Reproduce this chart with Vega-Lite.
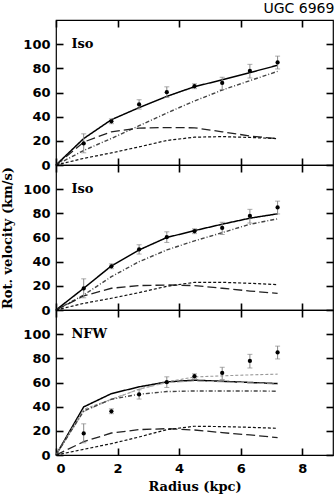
{
  "$schema": "https://vega.github.io/schema/vega-lite/v6.json",
  "background": "white",
  "padding": {"left": 1, "top": 1, "right": 1, "bottom": 1},
  "title": {"text": "UGC 6969", "anchor": "end", "fontSize": 14, "font": "DejaVu Sans", "fontWeight": "normal", "color": "#000000", "offset": 3},
  "spacing": 0,
  "bounds": "flush",
  "datasets": {
    "pts": [
      {"r": 0.9, "v": 17.8, "lo": 10.1, "hi": 25.8},
      {"r": 1.8, "v": 36.2, "lo": 34.2, "hi": 38.2},
      {"r": 2.7, "v": 50.1, "lo": 46.3, "hi": 54.0},
      {"r": 3.6, "v": 60.3, "lo": 55.9, "hi": 64.7},
      {"r": 4.5, "v": 65.2, "lo": 63.2, "hi": 67.2},
      {"r": 5.4, "v": 67.9, "lo": 62.5, "hi": 72.6},
      {"r": 6.3, "v": 77.8, "lo": 72.0, "hi": 83.3},
      {"r": 7.2, "v": 84.9, "lo": 79.5, "hi": 90.1}
    ],
    "curves": [
      {"p": 1, "c": "total", "r": 0, "v": 0}, {"p": 1, "c": "total", "r": 0.9, "v": 21.9}, {"p": 1, "c": "total", "r": 1.8, "v": 37.5}, {"p": 1, "c": "total", "r": 2.7, "v": 47.5}, {"p": 1, "c": "total", "r": 3.6, "v": 56.8}, {"p": 1, "c": "total", "r": 4.5, "v": 64.8}, {"p": 1, "c": "total", "r": 5.4, "v": 70.5}, {"p": 1, "c": "total", "r": 6.3, "v": 76.5}, {"p": 1, "c": "total", "r": 7.2, "v": 82.5},
      {"p": 1, "c": "halo", "r": 0, "v": 0}, {"p": 1, "c": "halo", "r": 0.9, "v": 12}, {"p": 1, "c": "halo", "r": 1.8, "v": 22}, {"p": 1, "c": "halo", "r": 2.7, "v": 32.5}, {"p": 1, "c": "halo", "r": 3.6, "v": 43}, {"p": 1, "c": "halo", "r": 4.5, "v": 53}, {"p": 1, "c": "halo", "r": 5.4, "v": 62}, {"p": 1, "c": "halo", "r": 6.3, "v": 69.8}, {"p": 1, "c": "halo", "r": 7.2, "v": 77.5},
      {"p": 1, "c": "disk", "r": 0, "v": 0}, {"p": 1, "c": "disk", "r": 0.9, "v": 19}, {"p": 1, "c": "disk", "r": 1.8, "v": 27.5}, {"p": 1, "c": "disk", "r": 2.7, "v": 30.5}, {"p": 1, "c": "disk", "r": 3.6, "v": 31}, {"p": 1, "c": "disk", "r": 4.5, "v": 30.8}, {"p": 1, "c": "disk", "r": 5.4, "v": 27.5}, {"p": 1, "c": "disk", "r": 6.3, "v": 24}, {"p": 1, "c": "disk", "r": 7.2, "v": 21.8},
      {"p": 1, "c": "gas", "r": 0, "v": 0}, {"p": 1, "c": "gas", "r": 0.9, "v": 5.5}, {"p": 1, "c": "gas", "r": 1.8, "v": 10}, {"p": 1, "c": "gas", "r": 2.7, "v": 15}, {"p": 1, "c": "gas", "r": 3.6, "v": 20.3}, {"p": 1, "c": "gas", "r": 4.5, "v": 23}, {"p": 1, "c": "gas", "r": 5.4, "v": 23.5}, {"p": 1, "c": "gas", "r": 6.3, "v": 22.8}, {"p": 1, "c": "gas", "r": 7.2, "v": 21.8},
      {"p": 2, "c": "total", "r": 0, "v": 0}, {"p": 2, "c": "total", "r": 0.9, "v": 18}, {"p": 2, "c": "total", "r": 1.8, "v": 36.5}, {"p": 2, "c": "total", "r": 2.7, "v": 49.7}, {"p": 2, "c": "total", "r": 3.6, "v": 60}, {"p": 2, "c": "total", "r": 4.5, "v": 65.7}, {"p": 2, "c": "total", "r": 5.4, "v": 71}, {"p": 2, "c": "total", "r": 6.3, "v": 76}, {"p": 2, "c": "total", "r": 7.2, "v": 79.6},
      {"p": 2, "c": "halo", "r": 0, "v": 0}, {"p": 2, "c": "halo", "r": 0.9, "v": 12.4}, {"p": 2, "c": "halo", "r": 1.8, "v": 27.6}, {"p": 2, "c": "halo", "r": 2.7, "v": 40}, {"p": 2, "c": "halo", "r": 3.6, "v": 49.7}, {"p": 2, "c": "halo", "r": 4.5, "v": 57.2}, {"p": 2, "c": "halo", "r": 5.4, "v": 64}, {"p": 2, "c": "halo", "r": 6.3, "v": 71}, {"p": 2, "c": "halo", "r": 7.2, "v": 75.4},
      {"p": 2, "c": "disk", "r": 0, "v": 0}, {"p": 2, "c": "disk", "r": 0.9, "v": 11.6}, {"p": 2, "c": "disk", "r": 1.8, "v": 18}, {"p": 2, "c": "disk", "r": 2.7, "v": 20.2}, {"p": 2, "c": "disk", "r": 3.6, "v": 20.7}, {"p": 2, "c": "disk", "r": 4.5, "v": 20.2}, {"p": 2, "c": "disk", "r": 5.4, "v": 18}, {"p": 2, "c": "disk", "r": 6.3, "v": 15.7}, {"p": 2, "c": "disk", "r": 7.2, "v": 13.8},
      {"p": 2, "c": "gas", "r": 0, "v": 0}, {"p": 2, "c": "gas", "r": 0.9, "v": 5.5}, {"p": 2, "c": "gas", "r": 1.8, "v": 9.7}, {"p": 2, "c": "gas", "r": 2.7, "v": 14.4}, {"p": 2, "c": "gas", "r": 3.6, "v": 19.6}, {"p": 2, "c": "gas", "r": 4.5, "v": 22.9}, {"p": 2, "c": "gas", "r": 5.4, "v": 22.9}, {"p": 2, "c": "gas", "r": 6.3, "v": 22.1}, {"p": 2, "c": "gas", "r": 7.2, "v": 21},
      {"p": 3, "c": "total", "r": 0, "v": 0}, {"p": 3, "c": "total", "r": 0.9, "v": 39.8}, {"p": 3, "c": "total", "r": 1.8, "v": 50.8}, {"p": 3, "c": "total", "r": 2.7, "v": 56.4}, {"p": 3, "c": "total", "r": 3.6, "v": 60.5}, {"p": 3, "c": "total", "r": 4.5, "v": 61.9}, {"p": 3, "c": "total", "r": 5.4, "v": 61}, {"p": 3, "c": "total", "r": 6.3, "v": 60}, {"p": 3, "c": "total", "r": 7.2, "v": 59.1},
      {"p": 3, "c": "alt", "r": 0, "v": 0}, {"p": 3, "c": "alt", "r": 0.9, "v": 37.8}, {"p": 3, "c": "alt", "r": 1.8, "v": 46.1}, {"p": 3, "c": "alt", "r": 2.7, "v": 54.4}, {"p": 3, "c": "alt", "r": 3.6, "v": 60.5}, {"p": 3, "c": "alt", "r": 4.5, "v": 64.6}, {"p": 3, "c": "alt", "r": 5.4, "v": 65.5}, {"p": 3, "c": "alt", "r": 6.3, "v": 66.3}, {"p": 3, "c": "alt", "r": 7.2, "v": 66.9},
      {"p": 3, "c": "alt2", "r": 0, "v": 0}, {"p": 3, "c": "alt2", "r": 0.9, "v": 35.9}, {"p": 3, "c": "alt2", "r": 1.8, "v": 46}, {"p": 3, "c": "alt2", "r": 2.7, "v": 54.5}, {"p": 3, "c": "alt2", "r": 3.6, "v": 59.8}, {"p": 3, "c": "alt2", "r": 4.5, "v": 61.3}, {"p": 3, "c": "alt2", "r": 5.4, "v": 60.5}, {"p": 3, "c": "alt2", "r": 6.3, "v": 59.7}, {"p": 3, "c": "alt2", "r": 7.2, "v": 58.6},
      {"p": 3, "c": "halo", "r": 0, "v": 0}, {"p": 3, "c": "halo", "r": 0.9, "v": 36.5}, {"p": 3, "c": "halo", "r": 1.8, "v": 46.1}, {"p": 3, "c": "halo", "r": 2.7, "v": 50.3}, {"p": 3, "c": "halo", "r": 3.6, "v": 52.5}, {"p": 3, "c": "halo", "r": 4.5, "v": 53}, {"p": 3, "c": "halo", "r": 5.4, "v": 53}, {"p": 3, "c": "halo", "r": 6.3, "v": 53}, {"p": 3, "c": "halo", "r": 7.2, "v": 52.8},
      {"p": 3, "c": "disk", "r": 0, "v": 0}, {"p": 3, "c": "disk", "r": 0.9, "v": 11}, {"p": 3, "c": "disk", "r": 1.8, "v": 18.2}, {"p": 3, "c": "disk", "r": 2.7, "v": 21}, {"p": 3, "c": "disk", "r": 3.6, "v": 21.8}, {"p": 3, "c": "disk", "r": 4.5, "v": 20.7}, {"p": 3, "c": "disk", "r": 5.4, "v": 18.5}, {"p": 3, "c": "disk", "r": 6.3, "v": 16.6}, {"p": 3, "c": "disk", "r": 7.2, "v": 14.4},
      {"p": 3, "c": "gas", "r": 0, "v": 0}, {"p": 3, "c": "gas", "r": 0.9, "v": 4.7}, {"p": 3, "c": "gas", "r": 1.8, "v": 9.4}, {"p": 3, "c": "gas", "r": 2.7, "v": 14.9}, {"p": 3, "c": "gas", "r": 3.6, "v": 21}, {"p": 3, "c": "gas", "r": 4.5, "v": 23.8}, {"p": 3, "c": "gas", "r": 5.4, "v": 23.5}, {"p": 3, "c": "gas", "r": 6.3, "v": 22.9}, {"p": 3, "c": "gas", "r": 7.2, "v": 22.1}
    ]
  },
  "vconcat": [
    {
      "width": 277, "height": 145,
      "resolve": {"axis": {"x": "independent", "y": "independent"}},
      "layer": [
        {
          "data": {"name": "curves"},
          "transform": [{"filter": "datum.p == 1"}],
          "mark": {"type": "line"},
          "encoding": {
            "x": {"field": "r", "type": "quantitative", "scale": {"domain": [0, 9], "nice": false, "zero": false}, "axis": {"orient": "bottom", "values": [0, 2, 4, 6, 8], "tickSize": 7, "tickColor": "black", "tickWidth": 1.6, "offset": -7, "labels": false, "title": null}},
            "y": {"field": "v", "type": "quantitative", "scale": {"domain": [0, 120], "nice": false}, "axis": {"orient": "left", "values": [0, 20, 40, 60, 80, 100], "tickSize": 7, "tickColor": "black", "tickWidth": 1.6, "offset": -7, "labelPadding": 6, "title": null}},
            "color": {"field": "c", "type": "nominal", "legend": null, "scale": {"domain": ["total", "halo", "disk", "gas", "alt", "alt2"], "range": ["#000000", "#444444", "#222222", "#111111", "#999999", "#aaaaaa"]}},
            "strokeDash": {"field": "c", "type": "nominal", "legend": null, "scale": {"domain": ["total", "halo", "disk", "gas", "alt", "alt2"], "range": [[1, 0], [4, 2, 1, 2], [9, 4], [3, 2], [3, 2], [7, 3]]}},
            "strokeWidth": {"field": "c", "type": "nominal", "legend": null, "scale": {"domain": ["total", "halo", "disk", "gas", "alt", "alt2"], "range": [1.5, 1, 1.2, 1, 1.5, 1.3]}}
          }
        },
        {
          "data": {"name": "pts"},
          "mark": {"type": "rule", "color": "#888888", "strokeWidth": 1},
          "encoding": {
            "x": {"field": "r", "type": "quantitative", "axis": null},
            "y": {"field": "lo", "type": "quantitative", "axis": null},
            "y2": {"field": "hi"}
          }
        },
        {
          "data": {"name": "pts"},
          "mark": {"type": "tick", "orient": "horizontal", "color": "#888888", "size": 5, "thickness": 1},
          "encoding": {
            "x": {"field": "r", "type": "quantitative", "axis": null},
            "y": {"field": "lo", "type": "quantitative", "axis": null}
          }
        },
        {
          "data": {"name": "pts"},
          "mark": {"type": "tick", "orient": "horizontal", "color": "#888888", "size": 5, "thickness": 1},
          "encoding": {
            "x": {"field": "r", "type": "quantitative", "axis": null},
            "y": {"field": "hi", "type": "quantitative", "axis": null}
          }
        },
        {
          "data": {"name": "pts"},
          "mark": {"type": "point", "filled": true, "size": 18, "color": "#000000", "opacity": 1},
          "encoding": {
            "x": {"field": "r", "type": "quantitative", "axis": {"orient": "top", "values": [0, 2, 4, 6, 8], "tickSize": -7, "tickColor": "black", "tickWidth": 1.6, "labels": false, "title": null}},
            "y": {"field": "v", "type": "quantitative", "axis": {"orient": "right", "values": [0, 20, 40, 60, 80, 100], "tickSize": -7, "tickColor": "black", "tickWidth": 1.6, "labels": false, "title": null}}
          }
        },
        {
          "data": {"values": [{"t": "Iso"}]},
          "mark": {"type": "text", "align": "left", "baseline": "middle", "font": "DejaVu Serif", "fontWeight": "bold", "fontSize": 13, "color": "#000000"},
          "encoding": {
            "x": {"datum": 0.5, "type": "quantitative", "axis": null},
            "y": {"datum": 100, "type": "quantitative", "axis": null},
            "text": {"field": "t"}
          }
        }
      ]
    },
    {
      "width": 277, "height": 145,
      "resolve": {"axis": {"x": "independent", "y": "independent"}},
      "layer": [
        {
          "data": {"name": "curves"},
          "transform": [{"filter": "datum.p == 2"}],
          "mark": {"type": "line"},
          "encoding": {
            "x": {"field": "r", "type": "quantitative", "scale": {"domain": [0, 9], "nice": false, "zero": false}, "axis": {"orient": "bottom", "values": [0, 2, 4, 6, 8], "tickSize": 7, "tickColor": "black", "tickWidth": 1.6, "offset": -7, "labels": false, "title": null}},
            "y": {"field": "v", "type": "quantitative", "scale": {"domain": [0, 120], "nice": false}, "axis": {"orient": "left", "values": [0, 20, 40, 60, 80, 100], "tickSize": 7, "tickColor": "black", "tickWidth": 1.6, "offset": -7, "labelPadding": 6, "title": "Rot. velocity (km/s)", "titlePadding": 8}},
            "color": {"field": "c", "type": "nominal", "legend": null, "scale": {"domain": ["total", "halo", "disk", "gas", "alt", "alt2"], "range": ["#000000", "#444444", "#222222", "#111111", "#999999", "#aaaaaa"]}},
            "strokeDash": {"field": "c", "type": "nominal", "legend": null, "scale": {"domain": ["total", "halo", "disk", "gas", "alt", "alt2"], "range": [[1, 0], [4, 2, 1, 2], [9, 4], [3, 2], [3, 2], [7, 3]]}},
            "strokeWidth": {"field": "c", "type": "nominal", "legend": null, "scale": {"domain": ["total", "halo", "disk", "gas", "alt", "alt2"], "range": [1.5, 1, 1.2, 1, 1.5, 1.3]}}
          }
        },
        {
          "data": {"name": "pts"},
          "mark": {"type": "rule", "color": "#888888", "strokeWidth": 1},
          "encoding": {
            "x": {"field": "r", "type": "quantitative", "axis": null},
            "y": {"field": "lo", "type": "quantitative", "axis": null},
            "y2": {"field": "hi"}
          }
        },
        {
          "data": {"name": "pts"},
          "mark": {"type": "tick", "orient": "horizontal", "color": "#888888", "size": 5, "thickness": 1},
          "encoding": {
            "x": {"field": "r", "type": "quantitative", "axis": null},
            "y": {"field": "lo", "type": "quantitative", "axis": null}
          }
        },
        {
          "data": {"name": "pts"},
          "mark": {"type": "tick", "orient": "horizontal", "color": "#888888", "size": 5, "thickness": 1},
          "encoding": {
            "x": {"field": "r", "type": "quantitative", "axis": null},
            "y": {"field": "hi", "type": "quantitative", "axis": null}
          }
        },
        {
          "data": {"name": "pts"},
          "mark": {"type": "point", "filled": true, "size": 18, "color": "#000000", "opacity": 1},
          "encoding": {
            "x": {"field": "r", "type": "quantitative", "axis": {"orient": "top", "values": [0, 2, 4, 6, 8], "tickSize": -7, "tickColor": "black", "tickWidth": 1.6, "labels": false, "title": null}},
            "y": {"field": "v", "type": "quantitative", "axis": {"orient": "right", "values": [0, 20, 40, 60, 80, 100], "tickSize": -7, "tickColor": "black", "tickWidth": 1.6, "labels": false, "title": null}}
          }
        },
        {
          "data": {"values": [{"t": "Iso"}]},
          "mark": {"type": "text", "align": "left", "baseline": "middle", "font": "DejaVu Serif", "fontWeight": "bold", "fontSize": 13, "color": "#000000"},
          "encoding": {
            "x": {"datum": 0.5, "type": "quantitative", "axis": null},
            "y": {"datum": 100, "type": "quantitative", "axis": null},
            "text": {"field": "t"}
          }
        }
      ]
    },
    {
      "width": 277, "height": 145,
      "resolve": {"axis": {"x": "independent", "y": "independent"}},
      "layer": [
        {
          "data": {"name": "curves"},
          "transform": [{"filter": "datum.p == 3"}],
          "mark": {"type": "line"},
          "encoding": {
            "x": {"field": "r", "type": "quantitative", "scale": {"domain": [0, 9], "nice": false, "zero": false}, "axis": {"orient": "bottom", "values": [0, 2, 4, 6, 8], "tickSize": 7, "tickColor": "black", "tickWidth": 1.6, "offset": -7, "labelPadding": 7, "title": "Radius (kpc)", "titlePadding": 5}},
            "y": {"field": "v", "type": "quantitative", "scale": {"domain": [0, 120], "nice": false}, "axis": {"orient": "left", "values": [0, 20, 40, 60, 80, 100], "tickSize": 7, "tickColor": "black", "tickWidth": 1.6, "offset": -7, "labelPadding": 6, "title": null}},
            "color": {"field": "c", "type": "nominal", "legend": null, "scale": {"domain": ["total", "halo", "disk", "gas", "alt", "alt2"], "range": ["#000000", "#444444", "#222222", "#111111", "#999999", "#aaaaaa"]}},
            "strokeDash": {"field": "c", "type": "nominal", "legend": null, "scale": {"domain": ["total", "halo", "disk", "gas", "alt", "alt2"], "range": [[1, 0], [4, 2, 1, 2], [9, 4], [3, 2], [3, 2], [7, 3]]}},
            "strokeWidth": {"field": "c", "type": "nominal", "legend": null, "scale": {"domain": ["total", "halo", "disk", "gas", "alt", "alt2"], "range": [1.5, 1, 1.2, 1, 1.5, 1.3]}}
          }
        },
        {
          "data": {"name": "pts"},
          "mark": {"type": "rule", "color": "#888888", "strokeWidth": 1},
          "encoding": {
            "x": {"field": "r", "type": "quantitative", "axis": null},
            "y": {"field": "lo", "type": "quantitative", "axis": null},
            "y2": {"field": "hi"}
          }
        },
        {
          "data": {"name": "pts"},
          "mark": {"type": "tick", "orient": "horizontal", "color": "#888888", "size": 5, "thickness": 1},
          "encoding": {
            "x": {"field": "r", "type": "quantitative", "axis": null},
            "y": {"field": "lo", "type": "quantitative", "axis": null}
          }
        },
        {
          "data": {"name": "pts"},
          "mark": {"type": "tick", "orient": "horizontal", "color": "#888888", "size": 5, "thickness": 1},
          "encoding": {
            "x": {"field": "r", "type": "quantitative", "axis": null},
            "y": {"field": "hi", "type": "quantitative", "axis": null}
          }
        },
        {
          "data": {"name": "pts"},
          "mark": {"type": "point", "filled": true, "size": 18, "color": "#000000", "opacity": 1},
          "encoding": {
            "x": {"field": "r", "type": "quantitative", "axis": {"orient": "top", "values": [0, 2, 4, 6, 8], "tickSize": -7, "tickColor": "black", "tickWidth": 1.6, "labels": false, "title": null}},
            "y": {"field": "v", "type": "quantitative", "axis": {"orient": "right", "values": [0, 20, 40, 60, 80, 100], "tickSize": -7, "tickColor": "black", "tickWidth": 1.6, "labels": false, "title": null}}
          }
        },
        {
          "data": {"values": [{"t": "NFW"}]},
          "mark": {"type": "text", "align": "left", "baseline": "middle", "font": "DejaVu Serif", "fontWeight": "bold", "fontSize": 13, "color": "#000000"},
          "encoding": {
            "x": {"datum": 0.5, "type": "quantitative", "axis": null},
            "y": {"datum": 100, "type": "quantitative", "axis": null},
            "text": {"field": "t"}
          }
        }
      ]
    }
  ],
  "config": {
    "view": {"stroke": "#000000", "strokeWidth": 1.2},
    "axis": {"domain": false, "grid": false, "labelColor": "#000000", "titleColor": "#000000", "labelFont": "DejaVu Sans", "labelFontWeight": "bold", "labelFontSize": 13, "titleFont": "DejaVu Serif", "titleFontWeight": "bold", "titleFontSize": 13, "zindex": 1}
  }
}
